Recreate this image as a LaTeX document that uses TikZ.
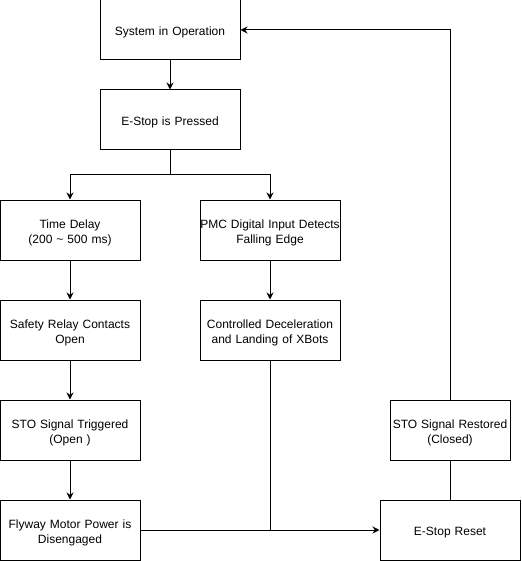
\documentclass[tikz,border=0pt]{standalone}
\usepackage{fontspec}
\setmainfont{Liberation Sans}
\usetikzlibrary{arrows.meta}

\tikzset{
	stepbox/.style={draw,line width=1pt,minimum width=140pt,minimum height=60pt,inner sep=0pt,text width=140pt,align=center,font=\fontsize{12}{15}\selectfont,execute at begin node={\rule{0pt}{14pt}}},
	flow/.style={line width=1pt,-{Stealth[length=7pt,width=7pt]}}
}

\begin{document}
\begin{tikzpicture}[x=1pt,y=-1pt]
	\useasboundingbox (0,0) rectangle (521,561);

	% Left branch
	\node[stepbox] (oper) at (170,30) {System in Operation};
	\node[stepbox] (press) at (170,120) {E-Stop is Pressed};
	\node[stepbox] (delay) at (70,230) {Time Delay\\(200 \textasciitilde{} 500 ms)};
	\node[stepbox] (relay) at (70,330) {Safety Relay Contacts\\Open};
	\node[stepbox] (sto) at (70,430) {STO Signal Triggered\\(Open )};
	\node[stepbox] (power) at (70,530) {Flyway Motor Power is\\Disengaged};

	% Middle branch
	\node[stepbox] (pmc) at (270,230) {PMC Digital Input Detects\\Falling Edge};
	\node[stepbox] (decel) at (270,330) {Controlled Deceleration\\and Landing of XBots};

	% Right side
	\node[stepbox] (reset) at (450,530) {E-Stop Reset};
	\node[stepbox,minimum width=120pt,text width=120pt] (restore) at (450,430) {STO Signal Restored\\(Closed)};

	\coordinate (split) at (170,175);
	\coordinate (join) at (270,530);

	\draw[flow] (oper) -- (press);
	\draw[flow] (press.south) -- (split) -| (delay.north);
	\draw[flow] (split) -| (pmc.north);
	\draw[flow] (delay) -- (relay);
	\draw[flow] (relay) -- (sto);
	\draw[flow] (sto) -- (power);
	\draw[flow] (pmc) -- (decel);
	\draw[line width=1pt] (decel.south) -- (join);
	\draw[flow] (power.east) -- (reset.west);
	\draw[line width=1pt] (reset) -- (restore);
	\draw[flow] (restore.north) |- (oper.east);
\end{tikzpicture}
\end{document}
